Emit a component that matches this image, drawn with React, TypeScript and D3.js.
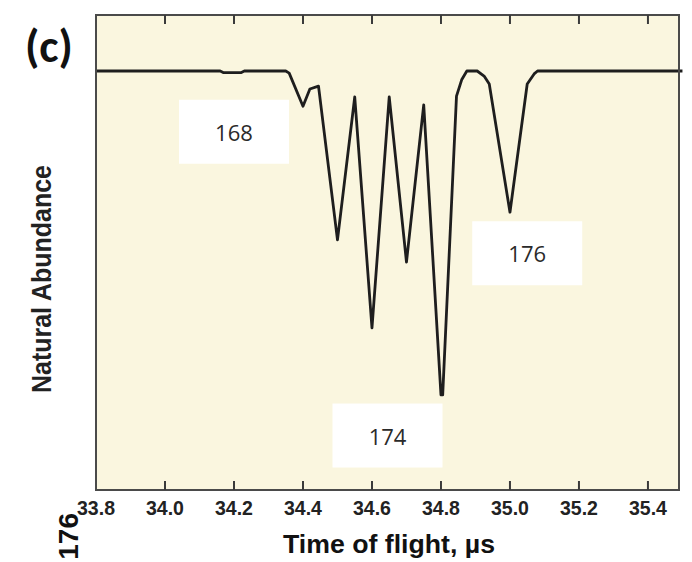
import React, { useEffect, useRef } from "react";
import * as d3 from "d3";

// time of flight (µs) and depth of the dip below the baseline (fraction)
const times = [33.8, 34.16, 34.17, 34.22, 34.23, 34.35, 34.36, 34.4, 34.42, 34.445, 34.5, 34.55, 34.6, 34.65, 34.7, 34.75, 34.8, 34.805, 34.845, 34.86, 34.875, 34.905, 34.925, 34.94, 35.0, 35.05, 35.07, 35.08, 35.5];
const depth = [0, 0, 0.004, 0.004, 0, 0, 0.005, 0.084, 0.043, 0.036, 0.403, 0.062, 0.613, 0.062, 0.456, 0.081, 0.773, 0.773, 0.06, 0.021, 0, 0, 0.012, 0.031, 0.337, 0.031, 0.007, 0, 0];

const xTicks = [33.8, 34.0, 34.2, 34.4, 34.6, 34.8, 35.0, 35.2, 35.4];

const isotopes = ["168", "174", "176"];
const labelTime = [34.2, 34.645, 35.05];
const labelDepth = [0.145, 0.87, 0.435];

export default function App() {
  const ref = useRef<SVGSVGElement>(null);

  useEffect(() => {
    const svg = d3.select(ref.current);
    svg.selectAll("*").remove();

    const margin = { left: 96, right: 13, top: 15, bottom: 72 };
    const W = 692, H = 562;
    const width = W - margin.left - margin.right;
    const height = H - margin.top - margin.bottom;

    const x = d3.scaleLinear().domain([33.8, 35.49]).range([0, width]);
    const y = d3.scaleLinear().domain([0, 1]).range([56, height]);

    const g = svg.append("g").attr("transform", `translate(${margin.left},${margin.top})`);

    g.append("rect")
      .attr("width", width).attr("height", height)
      .attr("fill", "#faf6df");

    // labels in white boxes
    isotopes.forEach((lab, i) => {
      const cx = x(labelTime[i]);
      const cy = y(labelDepth[i]);
      g.append("rect")
        .attr("x", cx - 55).attr("y", cy - 32)
        .attr("width", 110).attr("height", 64)
        .attr("fill", "#ffffff");
      g.append("text")
        .attr("x", cx).attr("y", cy)
        .attr("text-anchor", "middle").attr("dominant-baseline", "central")
        .attr("font-family", "'Open Sans', sans-serif")
        .attr("font-size", 22).attr("fill", "#2a2a2a")
        .text(lab);
    });

    const line = d3.line<number>()
      .x((d, i) => x(times[i]))
      .y((d) => y(d));

    g.append("path")
      .datum(depth)
      .attr("d", line)
      .attr("fill", "none")
      .attr("stroke", "#1e1e1e")
      .attr("stroke-width", 2.8)
      .attr("stroke-linejoin", "round");

    // frame
    g.append("rect")
      .attr("width", width).attr("height", height)
      .attr("fill", "none").attr("stroke", "#4a4a4a").attr("stroke-width", 2);

    const inner = xTicks.filter((t) => t > 33.8);
    g.selectAll(".tt").data(inner).enter().append("line")
      .attr("x1", (d) => x(d)).attr("x2", (d) => x(d))
      .attr("y1", 0).attr("y2", 9)
      .attr("stroke", "#3a3a3a").attr("stroke-width", 2);
    g.selectAll(".bt").data(inner).enter().append("line")
      .attr("x1", (d) => x(d)).attr("x2", (d) => x(d))
      .attr("y1", height).attr("y2", height - 9)
      .attr("stroke", "#3a3a3a").attr("stroke-width", 2);

    g.selectAll(".tl").data(xTicks).enter().append("text")
      .attr("x", (d) => x(d) - 19).attr("y", height + 25)
      .attr("font-family", "'Liberation Sans', Arial, sans-serif")
      .attr("font-weight", "bold").attr("font-size", 20)
      .attr("textLength", 38).attr("lengthAdjust", "spacingAndGlyphs")
      .attr("fill", "#222")
      .text((d) => d.toFixed(1));

    svg.append("text")
      .attr("x", 283).attr("y", 553)
      .attr("font-family", "'Liberation Sans', Arial, sans-serif")
      .attr("font-weight", "bold").attr("font-size", 25)
      .attr("textLength", 212).attr("lengthAdjust", "spacingAndGlyphs")
      .attr("fill", "#111")
      .text("Time of flight, µs");

    svg.append("text")
      .attr("transform", `translate(51,393) rotate(-90)`)
      .attr("font-family", "'Liberation Sans', Arial, sans-serif")
      .attr("font-weight", "bold").attr("font-size", 27)
      .attr("textLength", 228).attr("lengthAdjust", "spacingAndGlyphs")
      .attr("fill", "#222")
      .text("Natural Abundance");

    svg.append("text")
      .attr("transform", `translate(78,513) rotate(-90)`)
      .attr("text-anchor", "end")
      .attr("font-family", "'Liberation Sans', Arial, sans-serif")
      .attr("font-weight", "bold").attr("font-size", 28)
      .attr("fill", "#111")
      .text("176");

    svg.append("text")
      .attr("x", 25).attr("y", 62)
      .attr("font-family", "Carlito, 'Open Sans', sans-serif")
      .attr("font-weight", "bold").attr("font-size", 46)
      .attr("fill", "#111")
      .text("(c)");
  }, []);

  return (
    <svg ref={ref} width={692} height={562}
      style={{ position: "absolute", left: 0, top: 0, background: "#fff" }} />
  );
}
